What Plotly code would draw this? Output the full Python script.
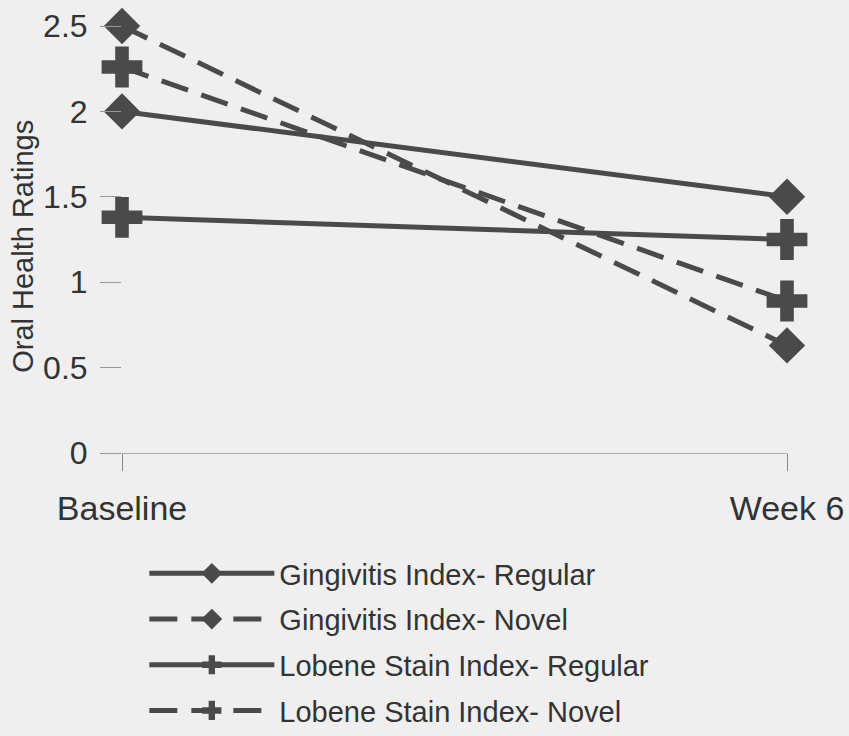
import plotly.graph_objects as go

timepoints = ["Baseline", "Week 6"]
gi_regular = [2.0, 1.5]
gi_novel = [2.5, 0.63]
lsi_regular = [1.38, 1.25]
lsi_novel = [2.26, 0.89]

series_names = [
    "Gingivitis Index- Regular",
    "Gingivitis Index- Novel",
    "Lobene Stain Index- Regular",
    "Lobene Stain Index- Novel",
]
y_title = "Oral Health Ratings"
y_ticks = [0, 0.5, 1, 1.5, 2, 2.5]
y_ticktext = ["0", "0.5", "1", "1.5", "2", "2.5"]

bg = "#efefef"
line_col = "#4a4a4a"
dash_style = "28px,14px"

fig = go.Figure()
specs = [
    (gi_regular, "diamond", 28, "solid"),
    (gi_novel, "diamond", 28, dash_style),
    (lsi_regular, "cross", 34, "solid"),
    (lsi_novel, "cross", 34, dash_style),
]
for name, (vals, sym, sz, dash) in zip(series_names, specs):
    fig.add_trace(go.Scatter(
        x=timepoints, y=vals, name=name, mode="lines+markers",
        line=dict(color=line_col, width=5, dash=dash),
        marker=dict(symbol=sym, size=sz, color=line_col, line=dict(width=0)),
        cliponaxis=False, legendgroup=name,
    ))

fig.update_layout(
    width=849, height=736,
    paper_bgcolor=bg, plot_bgcolor=bg,
    margin=dict(l=122, r=62, t=26, b=283, autoexpand=False),
    font=dict(family="Liberation Sans, Arial, sans-serif", color="#333333"),
    showlegend=True,
    legend=dict(
        xref="container", yref="container",
        x=0.17, y=0.0, xanchor="left", yanchor="bottom",
        font=dict(size=29, color="#333333"),
        itemwidth=125, tracegroupgap=5,
        bgcolor="rgba(0,0,0,0)",
    ),
    annotations=[dict(
        text=y_title, textangle=-90, showarrow=False,
        xref="paper", yref="paper", x=-0.149, y=0.485,
        xanchor="center", yanchor="middle",
        font=dict(size=29, color="#333333"),
    )],
)
fig.update_xaxes(
    type="category", range=[0, 1],
    showgrid=False, zeroline=False, automargin=False,
    showline=True, linecolor="#aaaaaa", linewidth=1,
    ticks="outside", ticklen=17, tickcolor="#888888", tickwidth=1,
    ticklabelstandoff=8,
    tickfont=dict(size=34, color="#333333"),
)
fig.update_yaxes(
    range=[0, 2.5], tickvals=y_ticks, ticktext=y_ticktext,
    showgrid=False, zeroline=False, showline=False, automargin=False,
    ticks="outside", ticklen=21, tickcolor="#999999", tickwidth=1,
    ticklabelstandoff=6,
    tickfont=dict(size=32, color="#333333"),
)

fig.write_html(
    "out.html",
    config={"displayModeBar": False},
    post_script="document.body.style.margin='0';document.body.style.background='%s';" % bg,
)
